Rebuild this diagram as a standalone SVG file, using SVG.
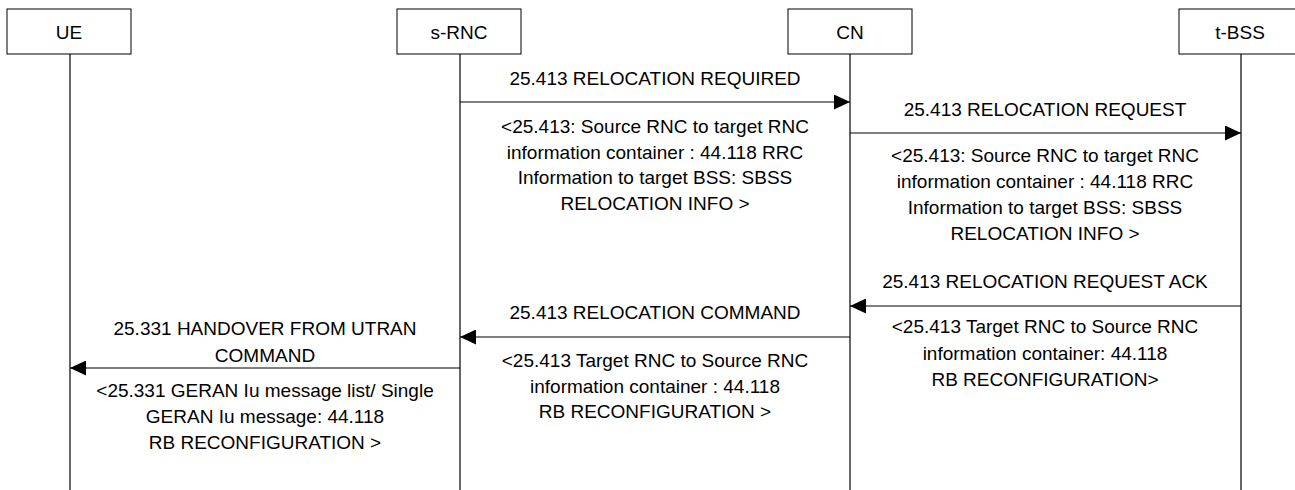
<svg xmlns="http://www.w3.org/2000/svg" width="1295" height="490" viewBox="0 0 1295 490">
<style>
  .box { fill: #ffffff; stroke: #000000; stroke-width: 1; }
  .life { stroke: #000000; stroke-width: 1.2; fill: none; }
  .msg { stroke: #000000; stroke-width: 1.2; fill: none; marker-end: url(#arr); }
  text { font-family: "Liberation Sans", Arial, sans-serif; font-size: 19px; fill: #000000; text-anchor: middle; }
</style>
<defs>
  <marker id="arr" markerUnits="userSpaceOnUse" markerWidth="16" markerHeight="15" refX="16" refY="7.5" orient="auto">
    <path d="M0,0 L16,7.5 L0,15 Z" fill="#000000"/>
  </marker>
</defs>
<rect width="1295" height="490" fill="#ffffff"/>

<g id="UE">
  <line class="life" x1="70" y1="54" x2="70" y2="490"/>
  <rect class="box" x="7" y="9" width="124" height="45"/>
  <text x="69" y="39">UE</text>
</g>
<g id="s-RNC">
  <line class="life" x1="460" y1="54" x2="460" y2="490"/>
  <rect class="box" x="397" y="9" width="124" height="45"/>
  <text x="459" y="39">s-RNC</text>
</g>
<g id="CN">
  <line class="life" x1="850" y1="54" x2="850" y2="490"/>
  <rect class="box" x="788" y="9" width="124" height="45"/>
  <text x="850" y="39">CN</text>
</g>
<g id="t-BSS">
  <line class="life" x1="1241" y1="54" x2="1241" y2="490"/>
  <rect class="box" x="1179" y="9" width="124" height="45"/>
  <text x="1240" y="39">t-BSS</text>
</g>

<g id="connectors">
  <line class="msg" x1="460" y1="102" x2="850" y2="102"/>
  <line class="msg" x1="850" y1="133" x2="1241" y2="133"/>
  <line class="msg" x1="1241" y1="306" x2="850" y2="306"/>
  <line class="msg" x1="850" y1="337" x2="460" y2="337"/>
  <line class="msg" x1="460" y1="368" x2="70" y2="368"/>
</g>

<g id="labels">
  <text x="655" y="85">25.413 RELOCATION REQUIRED</text>
  <text x="655" y="133">&lt;25.413: Source RNC to target RNC</text>
  <text x="655" y="159">information container : 44.118 RRC</text>
  <text x="655" y="184">Information to target BSS: SBSS</text>
  <text x="655" y="210">RELOCATION INFO &gt;</text>

  <text x="1045" y="116">25.413 RELOCATION REQUEST</text>
  <text x="1045" y="162">&lt;25.413: Source RNC to target RNC</text>
  <text x="1045" y="188">information container : 44.118 RRC</text>
  <text x="1045" y="214">Information to target BSS: SBSS</text>
  <text x="1045" y="240">RELOCATION INFO &gt;</text>

  <text x="1045" y="288">25.413 RELOCATION REQUEST ACK</text>
  <text x="1045" y="333">&lt;25.413 Target RNC to Source RNC</text>
  <text x="1045" y="360">information container: 44.118</text>
  <text x="1045" y="386">RB RECONFIGURATION&gt;</text>

  <text x="655" y="319">25.413 RELOCATION COMMAND</text>
  <text x="655" y="367">&lt;25.413 Target RNC to Source RNC</text>
  <text x="655" y="393">information container : 44.118</text>
  <text x="655" y="418">RB RECONFIGURATION &gt;</text>

  <text x="265" y="335">25.331 HANDOVER FROM UTRAN</text>
  <text x="265" y="362">COMMAND</text>
  <text x="265" y="397">&lt;25.331 GERAN Iu message list/ Single</text>
  <text x="265" y="423">GERAN Iu message: 44.118</text>
  <text x="265" y="449">RB RECONFIGURATION &gt;</text>
</g>
</svg>
